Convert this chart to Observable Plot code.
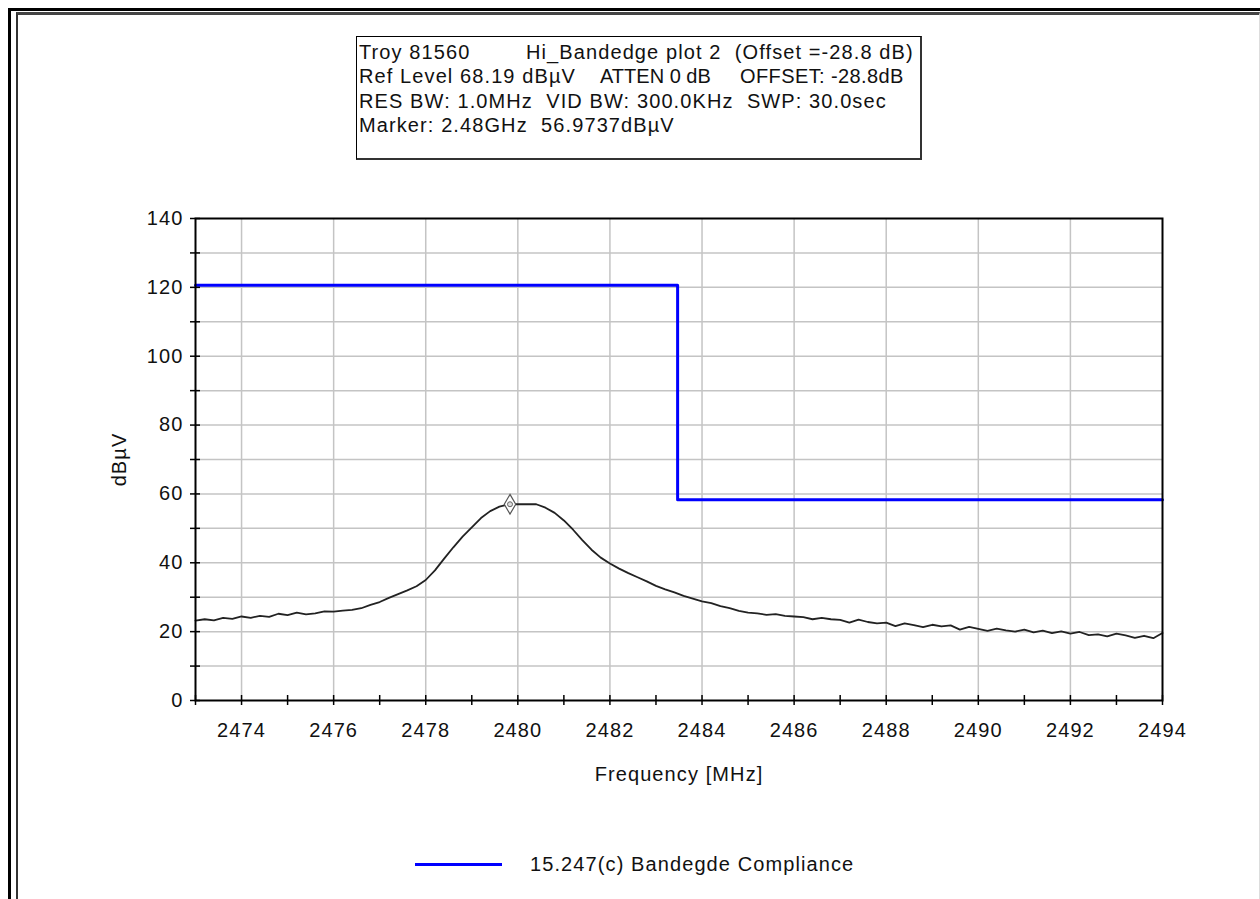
<!DOCTYPE html>
<html>
<head>
<meta charset="utf-8">
<script src="https://cdn.jsdelivr.net/npm/d3@7"></script>
<script src="https://cdn.jsdelivr.net/npm/@observablehq/plot@0.6"></script>
<style>
  html, body { margin: 0; padding: 0; background: #fff; }
  body { width: 1260px; height: 899px; position: relative; overflow: hidden; font-family: "Liberation Sans", Arial, sans-serif; color: #111; }
  #outer { position: absolute; left: 8px; top: 8px; width: 1300px; height: 1000px; border-left: 3px solid #000; border-top: 3px solid #000; }
  #inner { position: absolute; left: 16px; top: 12px; width: 1241px; height: 1000px; border-left: 2px solid #333; border-top: 3px solid #444; border-right: 1px solid #ddd; }
  #info { position: absolute; left: 356px; top: 36px; width: 563px; height: 121px; border: 1px solid #000; border-right: 2px solid #333; border-bottom: 2px solid #333; background: #fff; font-size: 20px; letter-spacing: 1.1px; }
  #info .ln { position: absolute; white-space: pre; line-height: 24px; }
  #chart { position: absolute; left: 0; top: 0; }
  #legend { position: absolute; left: 415px; top: 852px; height: 24px; font-size: 20px; letter-spacing: 1.1px; white-space: pre; display: flex; align-items: center; }
  #legend .sw { display: inline-block; width: 87px; height: 3px; background: #0000ff; margin-right: 28px; }
</style>
</head>
<body>
<div id="outer"></div>
<div id="inner"></div>
<div id="chart"></div>
<div id="info"></div>
<div id="legend"><span class="sw"></span><span id="legtext"></span></div>
<script>
// ---- header text ----
const infoLines = [
  ["Troy 81560", "Hi_Bandedge plot 2  (Offset =-28.8 dB)"],
  ["Ref Level 68.19 dBµV", "ATTEN 0 dB", "OFFSET: -28.8dB"],
  ["RES BW: 1.0MHz  VID BW: 300.0KHz  SWP: 30.0sec"],
  ["Marker: 2.48GHz  56.9737dBµV"]
];
const legendLabel = "15.247(c) Bandegde Compliance";
const xLabel = "Frequency [MHz]";
const yLabel = "dBµV";

// ---- axis ticks ----
const xMajorTicks = [2474, 2476, 2478, 2480, 2482, 2484, 2486, 2488, 2490, 2492, 2494];
const xMinorTicks = [2473, 2474, 2475, 2476, 2477, 2478, 2479, 2480, 2481, 2482, 2483, 2484, 2485, 2486, 2487, 2488, 2489, 2490, 2491, 2492, 2493, 2494];
const xGridTicks = [2474, 2476, 2478, 2480, 2482, 2484, 2486, 2488, 2490, 2492];
const yMajorTicks = [0, 20, 40, 60, 80, 100, 120, 140];
const yMinorTicks = [0, 10, 20, 30, 40, 50, 60, 70, 80, 90, 100, 110, 120, 130, 140];
const yGridTicks = [10, 20, 30, 40, 50, 60, 70, 80, 90, 100, 110, 120, 130];

// ---- limit line (15.247(c) bandedge compliance) ----
const limitFreq = [2473, 2483.47, 2494];
const limitLevel = [120.6, 58.3, 58.3];

// ---- marker ----
const markerFreq = [2479.83];
const markerLevel = [57.0];

// ---- measured trace (freq MHz, level dBµV) ----
const traceFreq = [
  2473.0, 2473.2, 2473.4, 2473.6, 2473.8, 2474.0, 2474.2, 2474.4, 2474.6, 2474.8,
  2475.0, 2475.2, 2475.4, 2475.6, 2475.8, 2476.0, 2476.2, 2476.4, 2476.6, 2476.8,
  2477.0, 2477.2, 2477.4, 2477.6, 2477.8, 2478.0, 2478.2, 2478.4, 2478.6, 2478.8,
  2479.0, 2479.2, 2479.4, 2479.6, 2479.8, 2480.0, 2480.2, 2480.4, 2480.6, 2480.8,
  2481.0, 2481.2, 2481.4, 2481.6, 2481.8, 2482.0, 2482.2, 2482.4, 2482.6, 2482.8,
  2483.0, 2483.2, 2483.4, 2483.6, 2483.8, 2484.0, 2484.2, 2484.4, 2484.6, 2484.8,
  2485.0, 2485.2, 2485.4, 2485.6, 2485.8, 2486.0, 2486.2, 2486.4, 2486.6, 2486.8,
  2487.0, 2487.2, 2487.4, 2487.6, 2487.8, 2488.0, 2488.2, 2488.4, 2488.6, 2488.8,
  2489.0, 2489.2, 2489.4, 2489.6, 2489.8, 2490.0, 2490.2, 2490.4, 2490.6, 2490.8,
  2491.0, 2491.2, 2491.4, 2491.6, 2491.8, 2492.0, 2492.2, 2492.4, 2492.6, 2492.8,
  2493.0, 2493.2, 2493.4, 2493.6, 2493.8, 2494.0
];
const traceLevel = [
  23.2, 23.6, 23.3, 24.0, 23.7, 24.4, 24.0, 24.6, 24.3, 25.2,
  24.8, 25.5, 25.0, 25.3, 25.9, 25.8, 26.1, 26.3, 26.8, 27.8,
  28.6, 29.8, 30.9, 32.0, 33.2, 35.0, 37.8, 41.2, 44.5, 47.6,
  50.3, 53.0, 55.0, 56.3, 57.0, 57.0, 57.0, 57.0, 56.0, 54.5,
  52.3, 49.6, 46.6, 43.8, 41.5, 39.8, 38.3, 37.0, 35.8, 34.6,
  33.3, 32.3, 31.4, 30.4, 29.6, 28.8, 28.3, 27.4, 26.8, 26.0,
  25.5, 25.3, 24.9, 25.1, 24.6, 24.4, 24.2, 23.6, 24.0, 23.6,
  23.4, 22.6, 23.5, 22.8, 22.4, 22.6, 21.6, 22.4, 21.9, 21.3,
  22.0, 21.5, 21.8, 20.6, 21.4, 20.8, 20.2, 20.9, 20.4, 20.0,
  20.6, 19.8, 20.3, 19.6, 20.1, 19.4, 19.9, 19.0, 19.2, 18.6,
  19.4, 18.9, 18.2, 18.8, 18.1, 19.6
];

const trace = traceFreq.map((f, i) => ({f, v: traceLevel[i]}));
const limit = limitFreq.map((f, i) => ({f, v: limitLevel[i]}));
const marker = markerFreq.map((f, i) => ({f, v: markerLevel[i]}));

// ---- header box ----
const info = document.getElementById("info");
const segLeft = [[2, 169], [2, 243, 383], [2], [2]];
const segSpacing = [[1.1, 1.1], [1.1, 0, 0.4], [1.1], [1.1]];
infoLines.forEach((line, r) => {
  line.forEach((txt, c) => {
    const d = document.createElement("div");
    d.className = "ln";
    d.style.left = segLeft[r][c] + "px";
    d.style.top = (3 + r * 24.3) + "px";
    d.style.letterSpacing = segSpacing[r][c] + "px";
    d.textContent = txt;
    info.appendChild(d);
  });
});
document.getElementById("legtext").textContent = legendLabel;

// ---- chart ----
const chart = Plot.plot({
  width: 1260,
  height: 800,
  marginLeft: 195,
  marginRight: 98,
  marginTop: 218,
  marginBottom: 100,
  style: {fontFamily: "'Liberation Sans', Arial, sans-serif", fontSize: "20px", letterSpacing: "1.1px", color: "#111", background: "transparent"},
  x: {domain: [2473, 2494]},
  y: {domain: [0, 140]},
  marks: [
    Plot.gridX(xGridTicks, {stroke: "#c4c4c4", strokeOpacity: 1, strokeWidth: 1.5}),
    Plot.gridY(yGridTicks, {stroke: "#c4c4c4", strokeOpacity: 1, strokeWidth: 1.5}),
    Plot.line(limit, {x: "f", y: "v", stroke: "#0000ff", strokeWidth: 3, curve: "step-after"}),
    Plot.line(trace, {x: "f", y: "v", stroke: "#222", strokeWidth: 1.8}),
    Plot.dot(marker, {x: "f", y: "v", symbol: "diamond", r: 6, stroke: "#555", fill: "white", strokeWidth: 1.2}),
    Plot.dot(marker, {x: "f", y: "v", r: 2.5, stroke: "#666", fill: "#ddd", strokeWidth: 1}),
    Plot.frame({stroke: "#000", strokeWidth: 2}),
    Plot.axisX(xMinorTicks, {anchor: "bottom", tickSize: 10, dy: -5, tickFormat: () => "", label: null, stroke: "#000", strokeWidth: 1.5}),
    Plot.axisX(xMajorTicks, {anchor: "bottom", tickSize: 0, tickPadding: 22, tickFormat: d => String(d), label: xLabel, labelAnchor: "center", labelOffset: 80, labelArrow: "none", fill: "#111"}),
    Plot.axisY(yMinorTicks, {anchor: "left", tickSize: 10, dx: 5, tickFormat: () => "", label: null, stroke: "#000", strokeWidth: 1.5}),
    Plot.axisY(yMajorTicks, {anchor: "left", tickSize: 0, tickPadding: 12, tickFormat: d => String(d), label: yLabel, labelAnchor: "center", labelOffset: 84, labelArrow: "none", fill: "#111"})
  ]
});
document.getElementById("chart").appendChild(chart);
</script>
</body>
</html>
